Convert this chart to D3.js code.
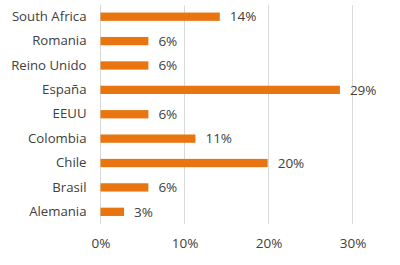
<!DOCTYPE html>
<html><head><meta charset="utf-8">
<script src="https://cdn.jsdelivr.net/npm/d3@7"></script>
<style>body{margin:0;background:#fff;} text{font-family:"Open Sans",sans-serif;}</style>
</head><body><svg id="c" width="400" height="265"></svg>
<script>
const categories = ["South Africa","Romania","Reino Unido","España","EEUU","Colombia","Chile","Brasil","Alemania"];
const values = [14.2, 5.7, 5.7, 28.5, 5.7, 11.3, 19.9, 5.7, 2.8];
const valueLabels = ["14%","6%","6%","29%","6%","11%","20%","6%","3%"];
const tickValues = [0, 10, 20, 30];

const svg = d3.select("#c");
const x = d3.scaleLinear().domain([0, 30]).range([100.5, 352.5]);
const y = d3.scaleBand().domain(categories).range([4.5, 224]).paddingInner(0.66).paddingOuter(0.33);

const g = svg.append("g");
g.selectAll("line.grid").data(tickValues).enter().append("line")
  .attr("x1", d => x(d)).attr("x2", d => x(d)).attr("y1", 4.5).attr("y2", 224)
  .attr("stroke", "#d9d9d9").attr("stroke-width", 1).attr("shape-rendering","crispEdges");

g.selectAll("rect").data(values).enter().append("rect")
  .attr("x", x(0)).attr("y", (d,i) => y(categories[i]))
  .attr("width", d => x(d) - x(0)).attr("height", y.bandwidth())
  .attr("fill", "#E8750F");

g.selectAll("text.val").data(values).enter().append("text")
  .attr("x", d => x(d) + 10).attr("y", (d,i) => y(categories[i]) + y.bandwidth()/2)
  .attr("dy", "0.35em").attr("font-size", 13.5).attr("fill", "#404040")
  .text((d,i) => valueLabels[i]);

const yAxis = d3.axisLeft(y).tickSize(0).tickPadding(14);
const ya = svg.append("g").attr("transform", `translate(${x(0)},0)`).call(yAxis);
ya.select(".domain").remove();
ya.selectAll("text").attr("font-size", 13.2).attr("fill", "#404040").attr("font-family","Open Sans, sans-serif");

const xAxis = d3.axisBottom(x).tickValues(tickValues).tickSize(0).tickPadding(12).tickFormat(d => d + "%");
const xa = svg.append("g").attr("transform", `translate(0,226)`).call(xAxis);
xa.select(".domain").remove();
xa.selectAll("text").attr("font-size", 13.5).attr("fill", "#404040").attr("font-family","Open Sans, sans-serif");
</script></body></html>
